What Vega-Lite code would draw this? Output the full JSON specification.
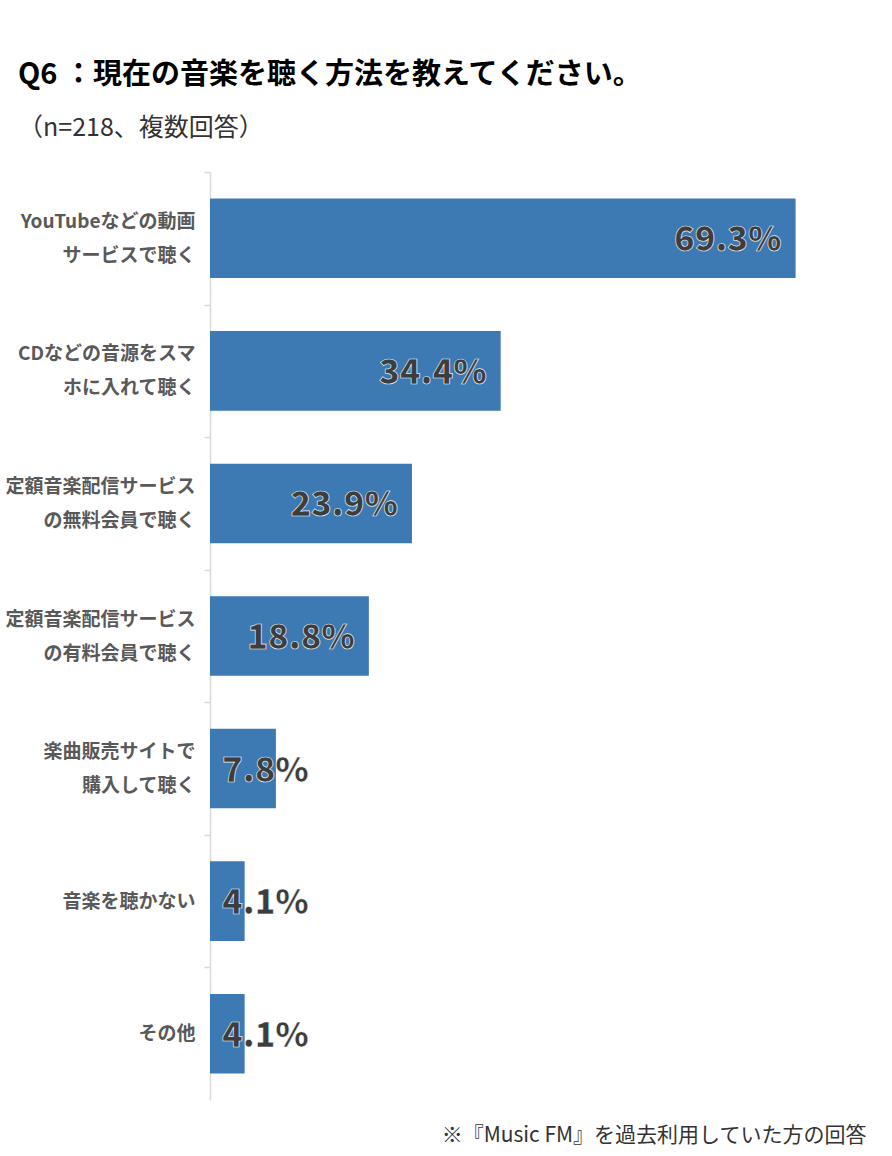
{
  "$schema": "https://vega.github.io/schema/vega-lite/v6.json",
  "width": 676,
  "height": 928,
  "autosize": "none",
  "padding": {"left": 210, "top": 172, "right": 6, "bottom": 56},
  "background": "white",
  "title": {
    "text": "Q6 ：現在の音楽を聴く方法を教えてください。",
    "subtitle": "（n=218、複数回答）",
    "anchor": "start",
    "frame": "group",
    "dx": -192,
    "offset": 30,
    "font": "Noto Sans CJK JP",
    "fontSize": 29,
    "fontWeight": "bold",
    "color": "#000000",
    "subtitleFont": "Noto Sans CJK JP",
    "subtitleFontSize": 25,
    "subtitleColor": "#333333",
    "subtitlePadding": 26
  },
  "config": {"view": {"stroke": null}},
  "data": {
    "values": [
      {"item": "YouTubeなどの動画\nサービスで聴く", "value": 0.693},
      {"item": "CDなどの音源をスマ\nホに入れて聴く", "value": 0.344},
      {"item": "定額音楽配信サービス\nの無料会員で聴く", "value": 0.239},
      {"item": "定額音楽配信サービス\nの有料会員で聴く", "value": 0.188},
      {"item": "楽曲販売サイトで\n購入して聴く", "value": 0.078},
      {"item": "音楽を聴かない", "value": 0.041},
      {"item": "その他", "value": 0.041}
    ]
  },
  "encoding": {
    "y": {
      "field": "item",
      "type": "nominal",
      "sort": null,
      "scale": {"paddingInner": 0.4, "paddingOuter": 0.2},
      "axis": {
        "title": null,
        "labelExpr": "split(datum.value, '\\n')",
        "labelFont": "Noto Sans CJK JP",
        "labelFontSize": 19,
        "labelFontWeight": "bold",
        "labelColor": "#595959",
        "labelLineHeight": 34,
        "labelPadding": 9,
        "labelLimit": 240,
        "labelAlign": "right",
        "labelBaseline": "middle",
        "tickOffset": -66.29,
        "labelOffset": {
          "condition": {"test": "indexof(datum.value, '\\n') >= 0", "value": 49.29},
          "value": 66.29
        },
        "tickSize": 6,
        "tickColor": "#d9d9d9",
        "tickWidth": 1.5,
        "domainColor": "#d9d9d9",
        "domainWidth": 1.5,
        "grid": false
      }
    }
  },
  "layer": [
    {
      "mark": {"type": "bar", "color": "#3d7ab4"},
      "encoding": {
        "x": {
          "field": "value",
          "type": "quantitative",
          "scale": {"domain": [0, 0.8]},
          "axis": {
            "labels": false,
            "ticks": false,
            "domain": false,
            "grid": false,
            "title": "※『Music FM』を過去利用していた方の回答",
            "titleX": 656,
            "titleY": 35,
            "titleAlign": "right",
            "titleAnchor": null,
            "titleBaseline": "middle",
            "titleFont": "Noto Sans CJK JP",
            "titleFontSize": 21,
            "titleFontWeight": "normal",
            "titleColor": "#333333"
          }
        }
      }
    },
    {
      "transform": [{"filter": "datum.value >= 0.15"}],
      "mark": {
        "type": "text",
        "align": "right",
        "baseline": "middle",
        "dx": -14,
        "dy": 3,
        "font": "Noto Sans CJK JP",
        "fontSize": 34,
        "fontWeight": 900,
        "fill": "#3d3d3d",
        "stroke": "#ffffff",
        "strokeWidth": 0.7,
        "strokeOpacity": 0.9
      },
      "encoding": {
        "x": {"field": "value", "type": "quantitative"},
        "text": {"field": "value", "format": ".1%"}
      }
    },
    {
      "transform": [{"filter": "datum.value < 0.15"}],
      "mark": {
        "type": "text",
        "align": "left",
        "baseline": "middle",
        "dx": 12,
        "dy": 3,
        "font": "Noto Sans CJK JP",
        "fontSize": 34,
        "fontWeight": 900,
        "fill": "#3d3d3d",
        "stroke": "#ffffff",
        "strokeWidth": 0.7,
        "strokeOpacity": 0.9
      },
      "encoding": {
        "x": {"datum": 0, "type": "quantitative"},
        "text": {"field": "value", "format": ".1%"}
      }
    }
  ]
}
